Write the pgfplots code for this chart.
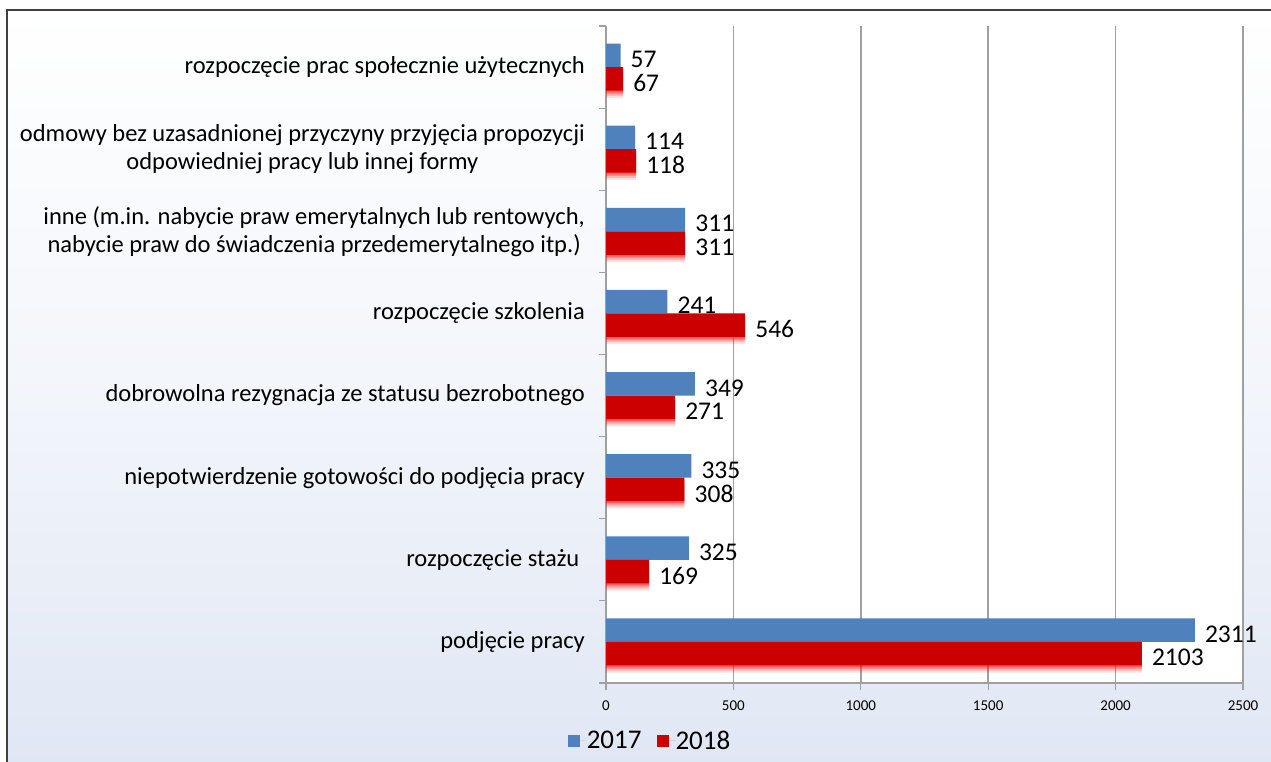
\documentclass[border=0pt]{standalone}
\usepackage{pgfplots}
\pgfplotsset{compat=1.18}
\usepackage{pgfplotstable}
\usepackage{fontspec}
\setmainfont{Carlito}
\definecolor{blue17}{RGB}{79,129,189}
\definecolor{red18}{RGB}{204,0,0}
\definecolor{glowred}{RGB}{255,0,0}
\definecolor{bgblue}{RGB}{224,231,244}
\definecolor{gridgray}{RGB}{160,160,160}
\definecolor{framegray}{RGB}{64,64,64}
\pgfplotstableread{
y v17 v18
0 2311 2103
1 325 169
2 335 308
3 349 271
4 241 546
5 311 311
6 114 118
7 57 67
}\data
\begin{document}
\begin{tikzpicture}[x=1pt,y=1pt]
\useasboundingbox (0,0) rectangle (1271,761);
\fill[white] (0,0) rectangle (1271,761);
\shade[top color=white, bottom color=bgblue, middle color=bgblue!40] (7,-5) rectangle (1280,751);
\draw[framegray, line width=2pt] (1280,751) -- (7,751) -- (7,-5);
\begin{axis}[
  at={(606pt,78pt)}, anchor=south west,
  scale only axis, width=637pt, height=657pt,
  xbar, xmin=0, xmax=2500, ymin=-0.5, ymax=7.5,
  axis background/.style={fill=white},
  axis x line*=bottom, axis y line*=left,
  axis line style={-, gridgray, line width=1.5pt},
  xtick={0,500,...,2500},
  xmajorgrids, major grid style={gridgray, line width=1.5pt},
  tick align=outside,
  major tick length=7pt,
  tick style={gridgray, line width=1.2pt},
  ytick={-0.5,0.5,...,7.5},
  yticklabels={},
  extra y ticks={0,1,2,3,4,5,6,7},
  extra y tick labels={
    {podjęcie pracy},
    {rozpoczęcie stażu\ },
    {niepotwierdzenie gotowości do podjęcia pracy},
    {dobrowolna rezygnacja ze statusu bezrobotnego},
    {rozpoczęcie szkolenia},
    {inne (m.in. nabycie praw emerytalnych lub rentowych,\\nabycie praw do świadczenia przedemerytalnego itp.)},
    {odmowy bez uzasadnionej przyczyny przyjęcia propozycji\\odpowiedniej pracy lub innej formy},
    {rozpoczęcie prac społecznie użytecznych}},
  extra y tick style={tick style={draw=none}, grid=none},
  yticklabel style={align=center, font=\fontsize{24.5}{28}\selectfont, inner sep=0pt, xshift=-14pt},
  xticklabel style={font=\fontsize{15}{18}\selectfont, yshift=-7pt},
  /pgf/number format/assume math mode=true,
  /pgf/number format/1000 sep={},
  point meta=x,
  nodes near coords,
  every node near coord/.append style={anchor=west, font=\fontsize{25.5}{28}\selectfont, inner sep=0pt, xshift=10pt, yshift=-4pt, text=black},
  legend style={at={(0.0675,-0.088)}, anchor=center, legend columns=2, draw=none, fill=none,
    font=\fontsize{27}{30}\selectfont,
    nodes={inner sep=0pt},
    /tikz/every even column/.append style={column sep=15pt}},
  legend image code/.code={\path[#1] (0pt,-6pt) rectangle (12pt,6pt); \path (0pt,0pt) -- (19pt,0pt);},
]
\addplot[fill=blue17, draw=none, bar width=23.5pt, bar shift=11.75pt] table[x=v17,y=y] {\data};
\addlegendentry{2017}
\addplot[forget plot, fill=glowred, fill opacity=0.12, draw=none, bar width=23.5pt, bar shift=-19pt, nodes near coords=\empty] table[x=v18,y=y] {\data};
\addplot[forget plot, fill=glowred, fill opacity=0.18, draw=none, bar width=23.5pt, bar shift=-17pt, nodes near coords=\empty] table[x=v18,y=y] {\data};
\addplot[forget plot, fill=glowred, fill opacity=0.25, draw=none, bar width=23.5pt, bar shift=-15pt, nodes near coords=\empty] table[x=v18,y=y] {\data};
\addplot[forget plot, fill=glowred, fill opacity=0.35, draw=none, bar width=23.5pt, bar shift=-13.5pt, nodes near coords=\empty] table[x=v18,y=y] {\data};
\addplot[fill=red18, draw=none, bar width=23.5pt, bar shift=-11.75pt] table[x=v18,y=y] {\data};
\addlegendentry{2018}
\end{axis}
\end{tikzpicture}
\end{document}
